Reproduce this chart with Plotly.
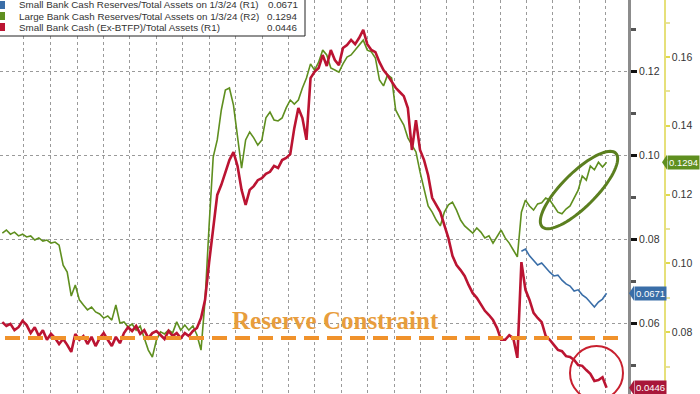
import numpy as np
import pandas as pd
import plotly.graph_objects as go

# ---------------- data (biweekly, ending 1/3/24) ----------------
dates = pd.date_range(end="2024-01-03", periods=150, freq="14D")

small_ex_btfp = [  # R1
    0.0602, 0.0593, 0.0598, 0.0583, 0.0590, 0.0605, 0.0595, 0.0576, 0.0590, 0.0569,
    0.0583, 0.0560, 0.0574, 0.0564, 0.0550, 0.0562, 0.0548, 0.0531, 0.0574, 0.0560,
    0.0569, 0.0550, 0.0567, 0.0545, 0.0564, 0.0576, 0.0560, 0.0545, 0.0567, 0.0552,
    0.0576, 0.0590, 0.0581, 0.0593, 0.0574, 0.0583, 0.0564, 0.0576, 0.0581, 0.0571,
    0.0562, 0.0581, 0.0569, 0.0576, 0.0564, 0.0576, 0.0569, 0.0581, 0.0588, 0.0612,
    0.0655, 0.0745, 0.0833, 0.0905, 0.0929, 0.0960, 0.0988, 0.1007, 0.0974, 0.0917,
    0.0881, 0.0917, 0.0926, 0.0940, 0.0945, 0.0955, 0.0960, 0.0974, 0.0969, 0.0988,
    0.0993, 0.1002, 0.1064, 0.1112, 0.1088, 0.1036, 0.1183, 0.1198, 0.1207, 0.1238,
    0.1212, 0.1250, 0.1226, 0.1214, 0.1255, 0.1262, 0.1274, 0.1264, 0.1279, 0.1298,
    0.1264, 0.1250, 0.1245, 0.1221, 0.1202, 0.1190, 0.1174, 0.1160, 0.1150, 0.1140,
    0.1112, 0.1012, 0.1083, 0.1012, 0.0988, 0.0952, 0.0898, 0.0881, 0.0864, 0.0833,
    0.0802, 0.0760, 0.0738, 0.0726, 0.0712, 0.0690, 0.0671, 0.0660, 0.0643, 0.0629,
    0.0619, 0.0607, 0.0588, 0.0560, 0.0560, 0.0571, 0.0564, 0.0517, 0.0745, 0.0679,
    0.0655, 0.0624, 0.0612, 0.0602, 0.0569, 0.0560, 0.0548, 0.0536, 0.0533, 0.0521,
    0.0519, 0.0512, 0.0500, 0.0498, 0.0488, 0.0479, 0.0462, 0.0464, 0.0471, 0.0446,
]

large_bank = [  # R2
    0.1088, 0.1097, 0.1085, 0.1091, 0.1080, 0.1085, 0.1077, 0.1080, 0.1068, 0.1074,
    0.1065, 0.1068, 0.1059, 0.1062, 0.1053, 0.0995, 0.0975, 0.0905, 0.0937, 0.0894,
    0.0879, 0.0865, 0.0873, 0.0859, 0.0853, 0.0841, 0.0847, 0.0835, 0.0879, 0.0827,
    0.0830, 0.0815, 0.0824, 0.0806, 0.0818, 0.0783, 0.0748, 0.0728, 0.0777, 0.0801,
    0.0795, 0.0806, 0.0798, 0.0830, 0.0806, 0.0821, 0.0806, 0.0818, 0.0792, 0.0748,
    0.0894, 0.1112, 0.1309, 0.1359, 0.1446, 0.1504, 0.1510, 0.1460, 0.1373, 0.1277,
    0.1359, 0.1382, 0.1365, 0.1344, 0.1359, 0.1423, 0.1440, 0.1417, 0.1414, 0.1423,
    0.1452, 0.1475, 0.1463, 0.1475, 0.1510, 0.1539, 0.1580, 0.1562, 0.1585, 0.1620,
    0.1606, 0.1568, 0.1562, 0.1556, 0.1580, 0.1600, 0.1606, 0.1620, 0.1635, 0.1649,
    0.1620, 0.1615, 0.1597, 0.1533, 0.1516, 0.1548, 0.1539, 0.1446, 0.1423, 0.1402,
    0.1365, 0.1344, 0.1324, 0.1266, 0.1213, 0.1167, 0.1149, 0.1126, 0.1109, 0.1149,
    0.1170, 0.1178, 0.1155, 0.1126, 0.1109, 0.1097, 0.1088, 0.1103, 0.1091, 0.1074,
    0.1080, 0.1059, 0.1080, 0.1097, 0.1074, 0.1059, 0.1039, 0.1019, 0.1149, 0.1184,
    0.1167, 0.1155, 0.1173, 0.1176, 0.1190, 0.1184, 0.1167, 0.1149, 0.1144, 0.1158,
    0.1167, 0.1190, 0.1213, 0.1254, 0.1242, 0.1283, 0.1272, 0.1294, 0.1280, 0.1294,
]

small_bank = [  # R1, last 22 observations
    0.0771, 0.0776, 0.0760, 0.0750, 0.0738, 0.0743, 0.0731, 0.0721, 0.0712, 0.0714,
    0.0702, 0.0693, 0.0688, 0.0676, 0.0679, 0.0667, 0.0660, 0.0650, 0.0638, 0.0650,
    0.0657, 0.0671,
]

reserve_constraint = 0.0564  # R1
legend_names = [
    "Small Bank Cash Reserves/Total Assets on 1/3/24 (R1)",
    "Large Bank Cash Reserves/Total Assets on 1/3/24 (R2)",
    "Small Bank Cash (Ex-BTFP)/Total Assets (R1)",
]
legend_values = ["0.0671", "0.1294", "0.0446"]
r1_ticks = [0.06, 0.08, 0.10, 0.12]
r2_ticks = [0.08, 0.10, 0.12, 0.14, 0.16]

# ---------------- style ----------------
BLUE = "#3a6ea8"
GREEN = "#5f8f1f"
RED = "#bb1432"
ORANGE = "#f0922b"
W, H = 700, 394
R1_RANGE = [0.043095, 0.136905]
R2_RANGE = [0.062035, 0.176570]


def px(x):
    return x / W


def py(y):
    return 1 - y / H


def frac(v, rng):
    return (v - rng[0]) / (rng[1] - rng[0])


fig = go.Figure()
fig.add_trace(go.Scatter(x=dates, y=large_bank, yaxis="y", mode="lines",
                         line=dict(color=GREEN, width=1.6), name=legend_names[1]))
fig.add_trace(go.Scatter(x=dates[-len(small_bank):], y=small_bank, yaxis="y2", mode="lines",
                         line=dict(color=BLUE, width=1.6), name=legend_names[0]))
fig.add_trace(go.Scatter(x=dates, y=small_ex_btfp, yaxis="y2", mode="lines",
                         line=dict(color=RED, width=2.6), name=legend_names[2]))

shapes = []
annotations = []

# reserve constraint dashed line
shapes.append(dict(type="line", xref="paper", yref="y2", x0=px(5), x1=px(626),
                   y0=reserve_constraint, y1=reserve_constraint,
                   line=dict(color=ORANGE, width=4, dash="15px,8px"), layer="above"))
annotations.append(dict(xref="paper", yref="paper", x=px(335), y=py(320),
                        text="<b>Reserve Constraint</b>", showarrow=False,
                        font=dict(family="Liberation Serif", size=25, color="#e89d3c"),
                        xanchor="center", yanchor="middle"))

# green ellipse
t = np.linspace(0, 2 * np.pi, 80)
cx, cy, a, b, th = 579, 190, 52, 17, np.deg2rad(45)
ex = cx + a * np.cos(t) * np.cos(th) - b * np.sin(t) * np.sin(th)
ey = cy - (a * np.cos(t) * np.sin(th) + b * np.sin(t) * np.cos(th))
path = "M " + " L ".join(f"{px(x):.5f},{py(y):.5f}" for x, y in zip(ex, ey)) + " Z"
shapes.append(dict(type="path", xref="paper", yref="paper", path=path,
                   line=dict(color="#5b7f1f", width=3), layer="above"))

# red circle
shapes.append(dict(type="circle", xref="paper", yref="paper", x0=px(570), x1=px(623),
                   y0=py(400), y1=py(346), line=dict(color="#c8202f", width=2), layer="above"))

# legend box
shapes.append(dict(type="rect", xref="paper", yref="paper", x0=-0.01, x1=px(305),
                   y0=py(36), y1=1.05, fillcolor="white", line=dict(color="#222", width=1),
                   layer="above"))
leg_colors = [BLUE, GREEN, RED]
for i, (nm, val, col) in enumerate(zip(legend_names, legend_values, leg_colors)):
    yc = 5 + 11 * i
    shapes.append(dict(type="rect", xref="paper", yref="paper", x0=px(-3), x1=px(5),
                       y0=py(yc + 4), y1=py(yc - 4), fillcolor=col, line=dict(width=0),
                       layer="above"))
    annotations.append(dict(xref="paper", yref="paper", x=px(17), y=py(yc), text=nm,
                            showarrow=False, xanchor="left", yanchor="middle",
                            font=dict(family="Liberation Sans", size=9.8, color="#333")))
    annotations.append(dict(xref="paper", yref="paper", x=px(300), y=py(yc), text=val,
                            showarrow=False, xanchor="right", yanchor="middle",
                            font=dict(family="Liberation Sans", size=9.8, color="#333")))

# value boxes on the axes
boxes = [
    (large_bank[-1], R2_RANGE, 667, GREEN),
    (small_bank[-1], R1_RANGE, 634, BLUE),
    (small_ex_btfp[-1], R1_RANGE, 634, "#a8173a"),
]
for v, rng, xl, col in boxes:
    yf = frac(v, rng)
    annotations.append(dict(xref="paper", yref="paper", x=px(xl), y=yf, text=f"{v:.4f}",
                            showarrow=False, xanchor="left", yanchor="middle",
                            bgcolor=col, borderpad=1,
                            font=dict(family="Liberation Sans", size=9.5, color="white")))
    d = 7.5 / H
    shapes.append(dict(type="path", xref="paper", yref="paper",
                       path=f"M {px(xl - 5)},{yf} L {px(xl)},{yf + d} L {px(xl)},{yf - d} Z",
                       line=dict(width=0), fillcolor=col, layer="above"))

fig.update_layout(
    width=W, height=H,
    margin=dict(l=0, r=0, t=0, b=0),
    template="none",
    paper_bgcolor="white", plot_bgcolor="white",
    showlegend=False,
    shapes=shapes, annotations=annotations,
    xaxis=dict(type="date", domain=[0, 628 / W],
               range=["2018-04-10", "2024-03-17"],
               tick0="2018-07-01", dtick="M3", showticklabels=False, ticks="",
               showgrid=True, gridcolor="#9a9a9a", griddash="dot", gridwidth=1,
               zeroline=False, showline=False, automargin=False),
    yaxis=dict(  # R2
        range=R2_RANGE, side="right", anchor="free", position=665 / W,
        tickvals=r2_ticks, ticktext=[f"{v:.2f}" for v in r2_ticks],
        ticks="outside", ticklen=4, tickwidth=1.5, tickcolor="#e0d94f",
        minor=dict(dtick=0.01, tick0=0, ticks="outside", ticklen=4, tickcolor="#e8e39a",
                   showgrid=False),
        showline=True, linecolor="#e6e07a", linewidth=1.5,
        showgrid=False, zeroline=False, automargin=False,
        tickfont=dict(family="Liberation Sans", size=10.5, color="#333"),
    ),
    yaxis2=dict(  # R1
        range=R1_RANGE, side="right", overlaying="y", anchor="x",
        tickvals=r1_ticks, ticktext=[f"{v:.2f}" for v in r1_ticks],
        ticks="outside", ticklen=6, tickwidth=2.5, tickcolor="#111",
        minor=dict(dtick=0.01, tick0=0, ticks="outside", ticklen=5, tickcolor="#555",
                   showgrid=False),
        showline=True, linecolor="#8c8c8c", linewidth=3,
        showgrid=True, gridcolor="#9a9a9a", griddash="dot", gridwidth=1,
        zeroline=False, automargin=False,
        tickfont=dict(family="Liberation Sans", size=10.5, color="#333"),
    ),
)

fig.write_html("out.html")
